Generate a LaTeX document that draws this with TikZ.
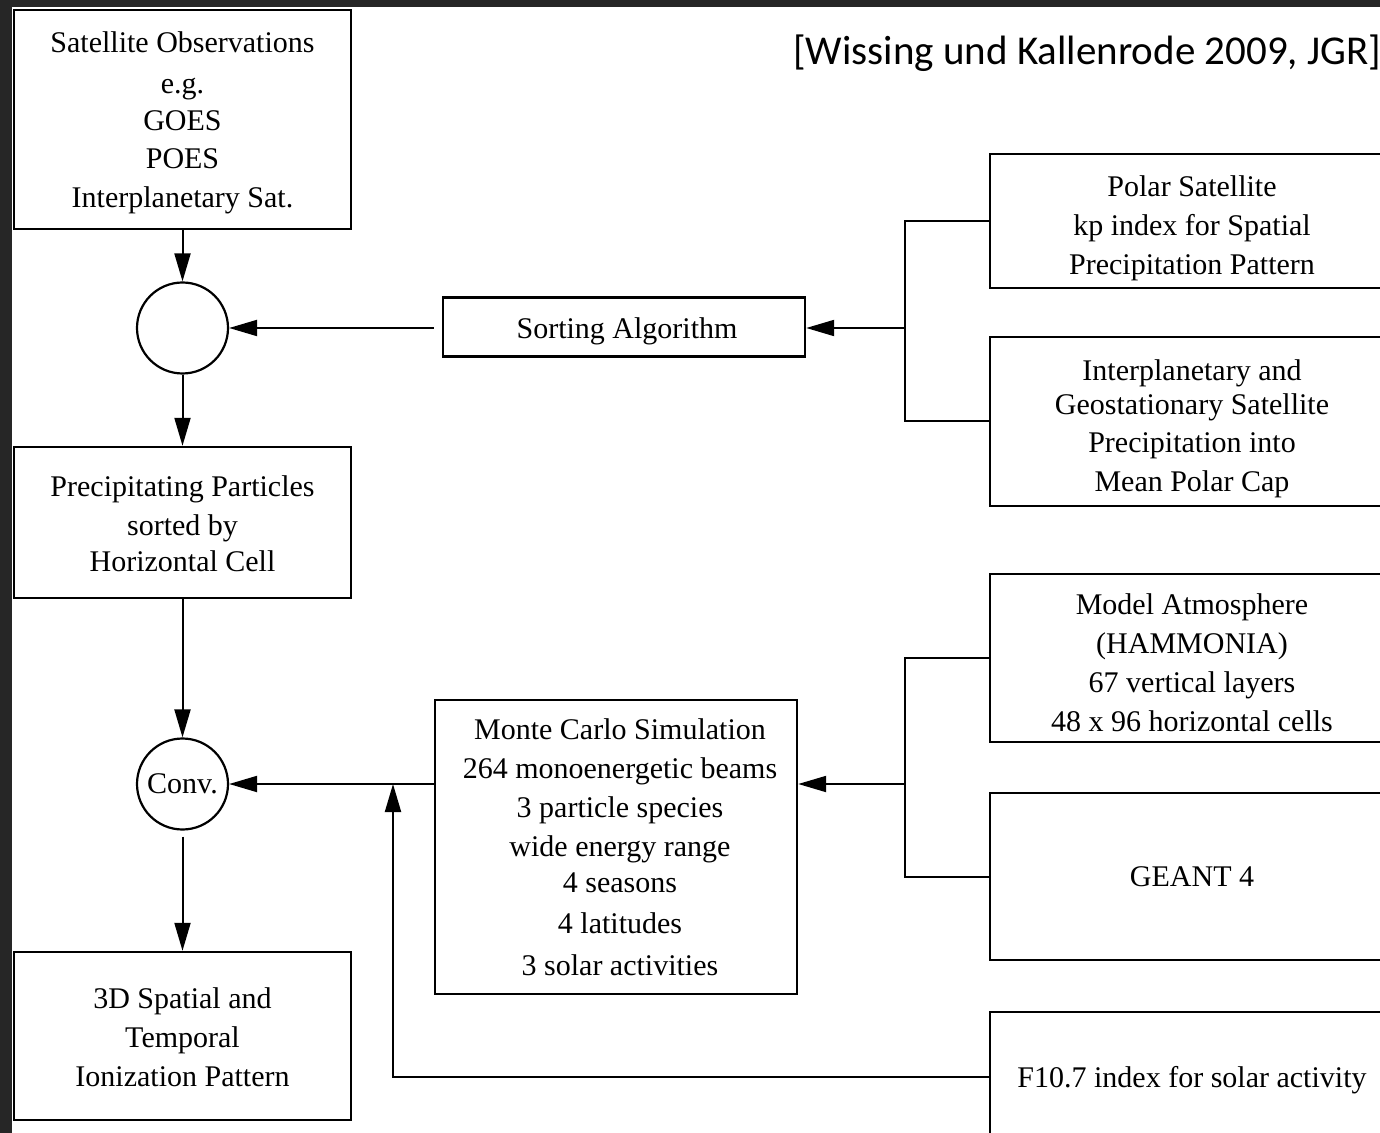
\documentclass[tikz,border=0pt]{standalone}
\usepackage{fontspec}
\setmainfont{Liberation Serif}
\newfontfamily\titlefont{Carlito}
\usetikzlibrary{arrows.meta}
\definecolor{darkstrip}{RGB}{38,38,38}
% shifted multi-line text: #1 right shift, #2 down shift, #3 lines
\newcommand{\tx}[3]{\kern#1\raisebox{-#2}[\height][\depth]{\begin{tabular}{@{}c@{}}#3\end{tabular}}\kern-#1}
\begin{document}
\begin{tikzpicture}[x=0.5pt,y=-0.5pt,
  box/.style={draw, line width=1.2pt, inner sep=0pt, align=center, font=\fontsize{15pt}{19.5pt}\selectfont},
  rbox/.style={box, minimum width=202pt},
  circ/.style={draw, circle, line width=1.1pt, minimum size=45.5pt, inner sep=0pt, font=\fontsize{15pt}{19.5pt}\selectfont},
  arr/.style={line width=1pt, -{Triangle[length=14pt,width=8pt]}},
  ln/.style={line width=1pt}]
\clip (0,0) rectangle (1380,1133);
\fill[white] (0,0) rectangle (1380,1133);
\fill[darkstrip] (0,0) rectangle (1380,7);
\fill[darkstrip] (0,0) rectangle (12,1133);

\node[anchor=base west, inner sep=0pt, font=\titlefont\fontsize{20.5pt}{24pt}\selectfont] (title) at (793,65) {[Wissing und Kallenrode 2009, JGR]};

% left column
\node[box, minimum width=168.5pt, minimum height=109.5pt] (sat) at (182.5,119.5)
  {\tx{0pt}{1.5pt}{Satellite Observations\\[1pt]e.g.\\[-1pt]GOES\\[-0.5pt]POES\\Interplanetary Sat.}};
\node[circ] (c1) at (182.5,328) {};
\node[box, minimum width=168.5pt, minimum height=75.5pt] (prec) at (182.5,522.5)
  {\tx{0pt}{2pt}{Precipitating Particles\\sorted by\\[-1.5pt]Horizontal Cell}};
\node[circ] (conv) at (182.5,784) {Conv.};
\node[box, minimum width=168.5pt, minimum height=84pt] (ion) at (182.5,1036)
  {\tx{0pt}{2pt}{3D Spatial and\\Temporal\\Ionization Pattern}};

% middle column
\node[box, minimum width=181pt, minimum height=29.5pt] (sort) at (624,327)
  {\tx{1.5pt}{2pt}{Sorting Algorithm}};
\node[box, minimum width=181pt, minimum height=147pt] (mc) at (616,847)
  {\tx{2pt}{1.5pt}{Monte Carlo Simulation\\264 monoenergetic beams\\3 particle species\\wide energy range\\[-1.5pt]4 seasons\\[1pt]4 latitudes\\[1.5pt]3 solar activities}};

% right column
\node[rbox, minimum height=67pt] (polar) at (1192,221)
  {\tx{0pt}{3.5pt}{Polar Satellite\\kp index for Spatial\\Precipitation Pattern}};
\node[rbox, minimum height=84.5pt] (inter) at (1192,421.5)
  {\tx{0pt}{3.5pt}{Interplanetary and\\[-2.5pt]Geostationary Satellite\\[-0.5pt]Precipitation into\\Mean Polar Cap}};
\node[rbox, minimum height=84pt] (model) at (1192,658)
  {\tx{0pt}{3.5pt}{Model Atmosphere\\(HAMMONIA)\\67 vertical layers\\48 x 96 horizontal cells}};
\node[rbox, minimum height=83.5pt] (geant) at (1192,876.5) {GEANT 4};
\node[rbox, minimum height=65pt] (f107) at (1192,1077)
  {\tx{0pt}{1.5pt}{F10.7 index for solar activity}};

% junctions
\coordinate (j1) at (905,328);
\coordinate (j2) at (905,784);
\coordinate (j3) at (393,784);

% connectors
\draw[arr] ([xshift=-4pt]sort.west |- c1.east) -- (c1.east);
\draw[arr] (sat.south) -- (c1.north);
\draw[ln] (polar.west) -| (j1) |- (inter.west);
\draw[arr] (j1) -- (sort.east |- j1);
\draw[arr] (c1.south) -- (prec.north);
\draw[arr] (prec.south) -- (conv.north);
\draw[arr] (mc.west |- conv.east) -- (conv.east);
\draw[arr] (f107.west) -| (j3);
\draw[ln] (model.west) -| (j2) |- (geant.west);
\draw[arr] (j2) -- (mc.east |- j2);
\draw[arr, shorten <=3pt] (conv.south) -- (ion.north);
\end{tikzpicture}
\end{document}
